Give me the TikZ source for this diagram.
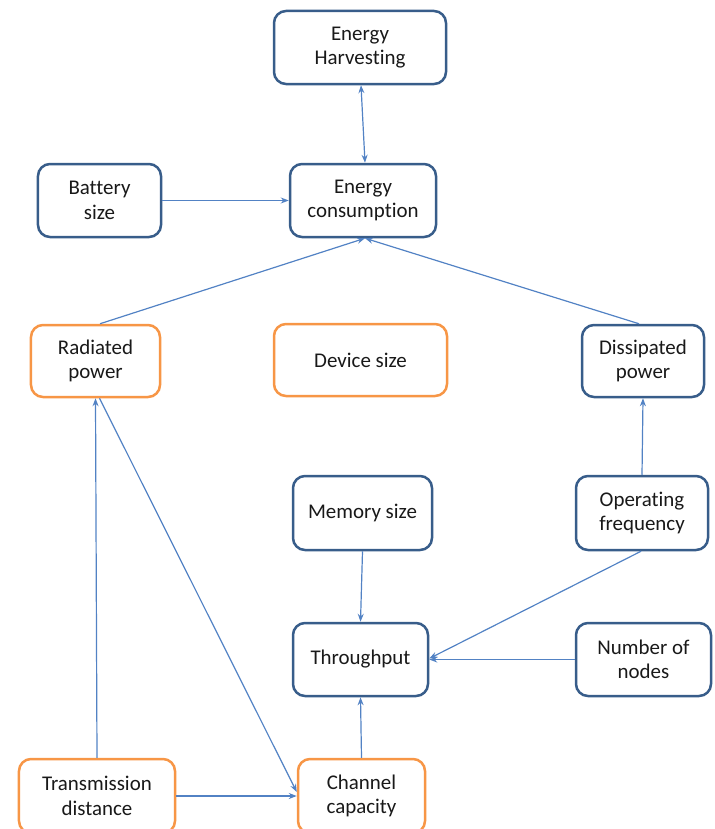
\documentclass[tikz,border=0pt]{standalone}
\usepackage{fontspec}
\setmainfont[Ligatures={NoCommon}]{Carlito}
\usetikzlibrary{arrows.meta}
\definecolor{boxblue}{HTML}{385D8A}
\definecolor{boxorange}{HTML}{F79646}
\definecolor{linkblue}{HTML}{5282C4}
\begin{document}
\begin{tikzpicture}[x=1bp,y=-1bp,
  box/.style={rectangle, rounded corners=12bp, line width=2.5bp, fill=white,
    align=center, inner sep=0pt, font=\fontsize{21}{24.5}\selectfont, text=black!90},
  bluebox/.style={box, draw=boxblue},
  orangebox/.style={box, draw=boxorange},
  link/.style={draw=linkblue, line width=1.2bp, -{Stealth[length=8bp,width=6bp]}},
  dlink/.style={link, {Stealth[length=8bp,width=6bp]}-{Stealth[length=8bp,width=6bp]}}]
\useasboundingbox (0,0) rectangle (715,829);
\clip (0,0) rectangle (715,829);
\node[bluebox, minimum width=172bp, minimum height=73bp] (eh) at (360,47.5) {Energy\\Harvesting};
\node[bluebox, minimum width=123bp, minimum height=73bp] (bat) at (99.5,200.5) {Battery\\size};
\node[bluebox, minimum width=146bp, minimum height=73bp] (ec) at (363,200.5) {Energy\\consumption};
\node[orangebox, minimum width=129bp, minimum height=72bp] (rad) at (95.5,361) {Radiated\\power};
\node[orangebox, minimum width=173bp, minimum height=72bp] (dev) at (360.5,360) {Device size};
\node[bluebox, minimum width=122bp, minimum height=72bp] (dis) at (643,361) {Dissipated\\power};
\node[bluebox, minimum width=139bp, minimum height=74bp] (mem) at (362.5,513) {Memory size};
\node[bluebox, minimum width=132bp, minimum height=74bp] (opf) at (642,513) {Operating\\frequency};
\node[bluebox, minimum width=135bp, minimum height=73bp] (thr) at (360.5,659.5) {Throughput};
\node[bluebox, minimum width=135bp, minimum height=73bp] (num) at (643.5,659.5) {Number of\\nodes};
\node[orangebox, minimum width=156bp, minimum height=74bp] (tra) at (97,796) {Transmission\\distance};
\node[orangebox, minimum width=127bp, minimum height=74bp] (cha) at (361.5,796) {Channel\\capacity};

\draw[dlink] ([xshift=1bp]eh.south) -- ([xshift=2bp]ec.north);
\draw[link] (bat.east) -- (ec.west);
\draw[link] ([xshift=4.5bp]rad.north) -- ([xshift=2bp]ec.south);
\draw[link] ([xshift=-4bp]dis.north) -- ([xshift=2bp]ec.south);
\draw[link] (opf.north) -- (dis.south);
\draw[link] (mem.south) -- (thr.north);
\draw[link] ([xshift=-1bp]opf.south) -- ([yshift=1bp]thr.east);
\draw[link] (num.west) -- (thr.east);
\draw[link] (cha.north) -- (thr.south);
\draw[link] (tra.north) -- (rad.south);
\draw[link] ([xshift=4bp]rad.south) -- ([yshift=4bp]cha.west);
\draw[link, line width=1.8bp] (tra.east) -- (cha.west);
\end{tikzpicture}
\end{document}
